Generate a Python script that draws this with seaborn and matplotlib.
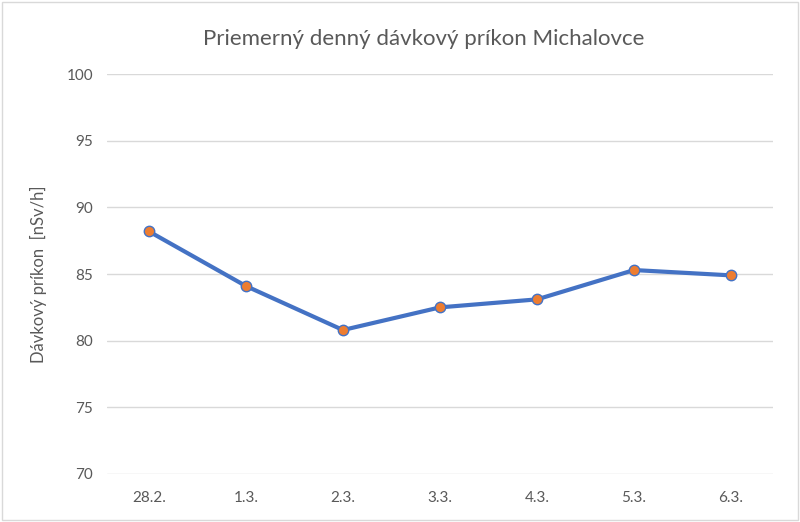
import matplotlib
matplotlib.use("Agg")
import matplotlib.pyplot as plt
import seaborn as sns
import pandas as pd
from matplotlib.patches import Rectangle

dates = ["28.2.", "1.3.", "2.3.", "3.3.", "4.3.", "5.3.", "6.3."]
values = [88.2, 84.1, 80.8, 82.5, 83.1, 85.3, 84.9]
yticks = [70, 75, 80, 85, 90, 95, 100]

title = "Priemerný denný dávkový príkon Michalovce"
ylabel = "Dávkový príkon  [nSv/h]"

sns.set_theme(style="white")
plt.rcParams['font.family'] = ['Lato', 'DejaVu Sans']

df = pd.DataFrame({"datum": dates, "prikon": values})

fig = plt.figure(figsize=(8, 5.22), dpi=100)
ax = fig.add_axes([0.134, 0.092, 0.832, 0.766])

sns.lineplot(data=df, x="datum", y="prikon", ax=ax, color="#4472C4",
             linewidth=3, marker="o", markersize=7.5,
             markerfacecolor="#ED7D31", markeredgecolor="#4472C4",
             markeredgewidth=1.0, sort=False)

ax.set_ylim(70, 100)
ax.set_yticks(yticks)
ax.set_xlim(-0.43, len(dates) - 1 + 0.43)
ax.grid(axis="y", color="#D9D9D9", linewidth=1)
ax.grid(axis="x", visible=False)
ax.set_axisbelow(True)
for s in ax.spines.values():
    s.set_visible(False)
ax.tick_params(axis="both", length=0, labelsize=11, labelcolor="#595959", pad=10)
ax.tick_params(axis="x", pad=12)
ax.set_xlabel("")
ax.set_ylabel(ylabel, fontsize=12, color="#595959", labelpad=14)

fig.text(0.53, 0.925, title, ha="center", va="center", fontsize=16, color="#595959")

fig.patches.append(Rectangle((0.002, 0.003), 0.995, 0.993, transform=fig.transFigure,
                             fill=False, edgecolor="#D9D9D9", linewidth=1))

fig.savefig("out.png", dpi=100)
